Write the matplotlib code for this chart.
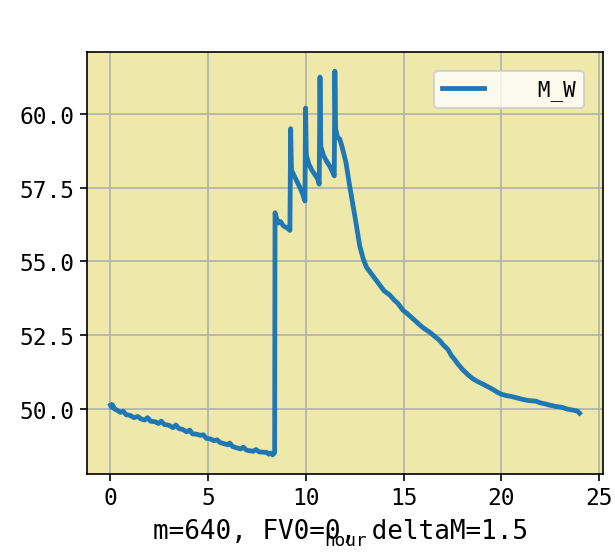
import matplotlib
matplotlib.use('Agg')
import matplotlib.pyplot as plt

plt.rcParams['font.family'] = ['DejaVu Sans Mono', 'DejaVu Sans']
plt.rcParams['font.size'] = 10

# Data: hour vs M_W
hours = [0.00, 0.05, 0.10, 0.20, 0.35, 0.50, 0.65, 0.80, 1.00, 1.20, 1.40, 1.55,
         1.75, 1.90, 2.05, 2.30, 2.45, 2.60, 2.75, 3.00, 3.20, 3.35, 3.50, 3.70,
         3.90, 4.05, 4.20, 4.40, 4.60, 4.75, 4.90, 5.10, 5.30, 5.45, 5.60, 5.80,
         6.00, 6.10, 6.25, 6.45, 6.65, 6.80, 6.95, 7.10, 7.30, 7.45, 7.60, 7.80,
         8.00, 8.10, 8.20, 8.30, 8.40,
         8.42, 8.50, 8.60, 8.70, 8.85, 9.00, 9.10, 9.18,
         9.22, 9.26, 9.40, 9.55, 9.70, 9.85, 9.95,
         9.98, 10.02, 10.15, 10.30, 10.45, 10.60, 10.68,
         10.72, 10.76, 10.90, 11.05, 11.20, 11.35, 11.45,
         11.48, 11.52, 11.62, 11.73, 11.82, 11.92, 12.05, 12.24, 12.50, 12.76,
         12.95, 13.10, 13.27, 13.50, 13.78, 14.00, 14.29, 14.50, 14.70, 14.97,
         15.20, 15.40, 15.65, 15.90, 16.10, 16.33, 16.60, 16.84, 17.05, 17.26,
         17.45, 17.60, 17.80, 18.03, 18.30, 18.54, 18.80, 19.05, 19.30, 19.56,
         19.80, 19.98, 20.25, 20.50, 20.80, 21.09, 21.40, 21.77, 22.00, 22.28,
         22.50, 22.79, 23.10, 23.38, 23.70, 23.90, 24.00]
m_w = [50.12, 50.05, 50.14, 50.00, 49.95, 49.88, 49.92, 49.80, 49.78, 49.70, 49.74, 49.66,
       49.62, 49.70, 49.58, 49.56, 49.50, 49.58, 49.47, 49.44, 49.36, 49.45, 49.33, 49.30,
       49.22, 49.28, 49.15, 49.14, 49.10, 49.12, 49.00, 48.98, 48.92, 48.95, 48.86, 48.82,
       48.78, 48.84, 48.72, 48.68, 48.64, 48.70, 48.60, 48.58, 48.56, 48.62, 48.54, 48.53,
       48.52, 48.46, 48.50, 48.44, 48.52,
       56.65, 56.45, 56.30, 56.35, 56.20, 56.15, 56.10, 56.05,
       59.50, 58.10, 57.90, 57.70, 57.50, 57.25, 57.05,
       60.20, 58.60, 58.30, 58.10, 57.95, 57.80, 57.62,
       61.25, 58.90, 58.60, 58.40, 58.25, 58.05, 57.90,
       61.45, 59.50, 59.20, 59.15, 58.95, 58.70, 58.35, 57.55, 56.55, 55.50,
       55.05, 54.80, 54.65, 54.45, 54.20, 54.00, 53.86, 53.70, 53.58, 53.34,
       53.22, 53.10, 52.95, 52.80, 52.70, 52.60, 52.45, 52.32, 52.15, 52.02,
       51.80, 51.68, 51.50, 51.32, 51.15, 51.02, 50.92, 50.84, 50.75, 50.66,
       50.56, 50.50, 50.45, 50.42, 50.37, 50.32, 50.28, 50.26, 50.20, 50.16,
       50.12, 50.08, 50.05, 49.99, 49.95, 49.92, 49.85]

fig = plt.figure(figsize=(4.1, 3.6933), dpi=150)
ax = fig.add_axes([0.1415, 0.1426, 0.839, 0.7617])
ax.set_facecolor('palegoldenrod')

ax.plot(hours, m_w, color='#1f77b4', linewidth=2.3, label='   M_W')
ax.grid(True)
ax.set_axisbelow(True)
ax.set_yticks([50.0, 52.5, 55.0, 57.5, 60.0])
ax.set_xticks([0, 5, 10, 15, 20, 25])
ax.tick_params(labelsize=11, pad=2.5)

ax.set_xlabel('hour', fontsize=8.5)
ax.xaxis.set_label_coords(0.5, -0.135)
ax.legend(loc='upper right', fontsize=10, borderaxespad=0.9)

fig.text(0.553, 0.016, 'm=640, FV0=0, deltaM=1.5', ha='center', va='bottom', fontsize=12.5)

fig.savefig('out.png', dpi=150)
